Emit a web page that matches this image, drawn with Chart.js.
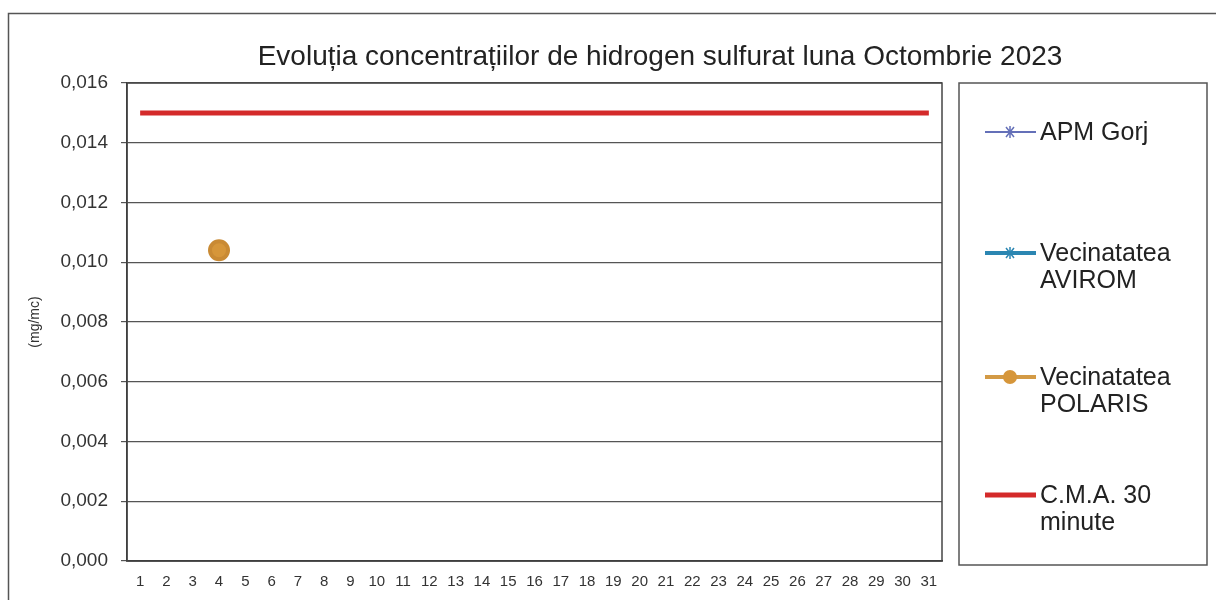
<!DOCTYPE html>
<html>
<head>
<meta charset="utf-8">
<script src="https://cdn.jsdelivr.net/npm/chart.js@4.4.0/dist/chart.umd.min.js"></script>
<style>
  html, body { margin: 0; padding: 0; background: #fff; }
  #wrap { position: relative; width: 1216px; height: 600px; }
</style>
</head>
<body>
<div id="wrap"><canvas id="chart" width="1216" height="600"></canvas></div>
<script>
// H2S concentrations, October 2023 (mg/mc)
const days = ['1','2','3','4','5','6','7','8','9','10','11','12','13','14','15','16',
              '17','18','19','20','21','22','23','24','25','26','27','28','29','30','31'];

const apmGorj = [null,null,null,null,null,null,null,null,null,null,null,null,null,null,null,null,
                 null,null,null,null,null,null,null,null,null,null,null,null,null,null,null];
const avirom  = [null,null,null,null,null,null,null,null,null,null,null,null,null,null,null,null,
                 null,null,null,null,null,null,null,null,null,null,null,null,null,null,null];
const polaris = [null,null,null,0.0104,null,null,null,null,null,null,null,null,null,null,null,null,
                 null,null,null,null,null,null,null,null,null,null,null,null,null,null,null];
const cma30   = [0.015,0.015,0.015,0.015,0.015,0.015,0.015,0.015,0.015,0.015,0.015,0.015,0.015,0.015,0.015,0.015,
                 0.015,0.015,0.015,0.015,0.015,0.015,0.015,0.015,0.015,0.015,0.015,0.015,0.015,0.015,0.015];

const seriesNames = ['APM Gorj', 'Vecinatatea AVIROM', 'Vecinatatea POLARIS', 'C.M.A. 30 minute'];
const legendLines = [['APM Gorj'], ['Vecinatatea', 'AVIROM'], ['Vecinatatea', 'POLARIS'], ['C.M.A. 30', 'minute']];
const yTicks = [0, 0.002, 0.004, 0.006, 0.008, 0.010, 0.012, 0.014, 0.016];

const titleText = 'Evoluția concentrațiilor de hidrogen sulfurat luna Octombrie 2023';
const FONT = '"Liberation Sans", Arial, sans-serif';

// frame, title, plot border and the boxed legend on the right
const decor = {
    id: 'decor',
    beforeDraw(chart) {
        const c = chart.ctx;
        c.save();
        c.strokeStyle = '#555';
        c.lineWidth = 1.5;
        c.strokeRect(8.5, 13.5, 1240, 640);
        c.restore();
    },
    afterDraw(chart) {
        const c = chart.ctx;
        const a = chart.chartArea;
        c.save();
        // plot frame
        c.strokeStyle = '#444';
        c.lineWidth = 1.5;
        c.strokeRect(a.left, a.top, a.right - a.left, a.bottom - a.top);

        // title
        c.fillStyle = '#222';
        c.font = '28px ' + FONT;
        c.textAlign = 'center';
        c.textBaseline = 'middle';
        c.fillText(titleText, 660, 57);

        // legend box
        c.strokeStyle = '#555';
        c.lineWidth = 1.5;
        c.strokeRect(959, 83, 248, 482);

        const rowsY = [132, 253, 377, 495];
        c.font = '25px ' + FONT;
        c.textAlign = 'left';
        chart.data.datasets.forEach((ds, i) => {
            const y = rowsY[i];
            c.strokeStyle = ds.borderColor;
            c.lineWidth = ds.legendLine;
            c.beginPath();
            c.moveTo(985, y);
            c.lineTo(1036, y);
            c.stroke();
            if (ds.legendMarker === 'circle') {
                c.fillStyle = ds.pointBackgroundColor;
                c.beginPath();
                c.arc(1010, y, 7, 0, Math.PI * 2);
                c.fill();
            } else if (ds.legendMarker === 'star') {
                c.lineWidth = 1.5;
                c.beginPath();
                c.moveTo(1006, y - 5); c.lineTo(1014, y + 5);
                c.moveTo(1014, y - 5); c.lineTo(1006, y + 5);
                c.moveTo(1010, y - 6); c.lineTo(1010, y + 6);
                c.stroke();
            }
            c.fillStyle = '#222';
            legendLines[i].forEach((t, k) => c.fillText(t, 1040, y + 1 + k * 27));
        });
        c.restore();
    }
};

new Chart(document.getElementById('chart'), {
    type: 'line',
    data: {
        labels: days,
        datasets: [
            {
                label: seriesNames[0], data: apmGorj,
                borderColor: '#6470b8', pointBackgroundColor: '#6470b8',
                borderWidth: 2, pointRadius: 4, legendLine: 2, legendMarker: 'star'
            },
            {
                label: seriesNames[1], data: avirom,
                borderColor: '#2b86b2', pointBackgroundColor: '#2b86b2',
                borderWidth: 3, pointRadius: 4, legendLine: 4, legendMarker: 'star'
            },
            {
                label: seriesNames[2], data: polaris,
                borderColor: '#d39a45', pointBackgroundColor: '#d6963a',
                pointBorderColor: '#c98a34', borderWidth: 4, pointRadius: 9,
                legendLine: 4, legendMarker: 'circle'
            },
            {
                label: seriesNames[3], data: cma30,
                borderColor: '#d42a2a', borderWidth: 5, pointRadius: 0,
                legendLine: 5, legendMarker: 'none'
            }
        ]
    },
    options: {
        responsive: false,
        animation: false,
        spanGaps: false,
        layout: { padding: { left: 10, right: 274, top: 83, bottom: 9 } },
        scales: {
            y: {
                min: 0,
                max: 0.016,
                afterFit: (s) => { s.width = 117; },
                afterBuildTicks: (s) => { s.ticks = yTicks.map(v => ({ value: v })); },
                grid: { color: '#555', lineWidth: 1.2, tickLength: 6 },
                border: { color: '#333', width: 1.5 },
                ticks: {
                    padding: 13,
                    color: '#333',
                    font: { family: FONT, size: 19 },
                    callback: (v) => v.toFixed(3).replace('.', ',')
                },
                title: {
                    display: true,
                    text: '(mg/mc)',
                    color: '#333',
                    padding: { top: 17, bottom: 0 },
                    font: { family: FONT, size: 14 }
                }
            },
            x: {
                offset: true,
                afterFit: (s) => { s.height = 30; },
                grid: { display: false, offset: true },
                border: { color: '#333', width: 1.5 },
                ticks: {
                    padding: 4,
                    autoSkip: false,
                    maxRotation: 0,
                    color: '#333',
                    font: { family: FONT, size: 15 }
                }
            }
        },
        plugins: {
            legend: { display: false },
            title: { display: false },
            tooltip: { enabled: false }
        }
    },
    plugins: [decor]
});
</script>
</body>
</html>
